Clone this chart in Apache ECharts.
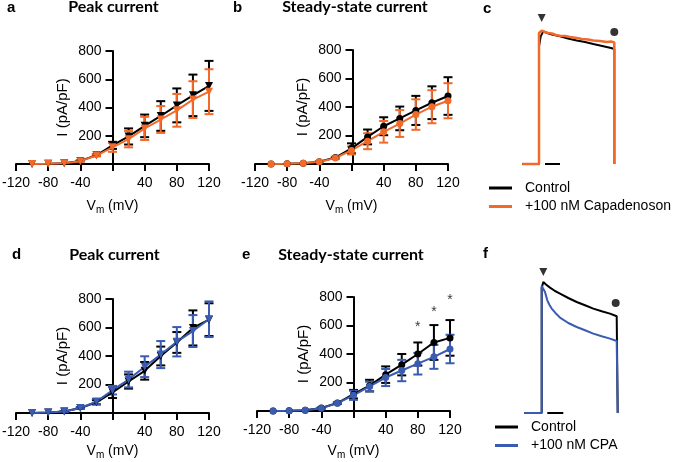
<!DOCTYPE html>
<html><head><meta charset="utf-8">
<script src="https://cdn.jsdelivr.net/npm/echarts@6/dist/echarts.min.js"></script>
<style>html,body{margin:0;padding:0;background:#fff}#c{width:677px;height:462px}</style>
</head><body><div id="c"></div>
<script>
// ---------- data ----------
const voltages = [-100, -80, -60, -40, -20, 0, 20, 40, 60, 80, 100, 120];
const xTickLabels = [-120, -80, -40, 40, 80, 120];
const yTickLabels = [200, 400, 600, 800];

// a: Peak current (Capadenoson)
const aCtrlMean = [0, 2, 5, 22, 62, 132, 195, 270, 340, 415, 486, 553];
const aCtrlErr  = [0, 0, 1, 3, 6, 25, 57, 80, 105, 120, 147, 177];
const aCapaMean = [0, 2, 5, 20, 60, 118, 176, 252, 315, 380, 456, 512];
const aCapaErr  = [0, 0, 1, 3, 6, 32, 58, 82, 95, 116, 130, 159];
// b: Steady-state current (Capadenoson)
const bCtrlMean = [0, 2, 6, 16, 45, 110, 190, 265, 320, 376, 430, 477];
const bCtrlErr  = [0, 0, 1, 2, 5, 35, 52, 63, 83, 102, 115, 132];
const bCapaMean = [0, 2, 5, 15, 42, 95, 160, 226, 284, 347, 402, 444];
const bCapaErr  = [0, 0, 1, 2, 5, 28, 56, 76, 94, 107, 116, 123];
// d: Peak current (CPA)
const dCtrlMean = [0, 3, 10, 35, 75, 145, 221, 296, 400, 495, 597, 655];
const dCtrlErr  = [0, 0, 2, 5, 15, 40, 50, 62, 66, 73, 123, 115];
const dCpaMean  = [0, 3, 10, 35, 80, 160, 235, 325, 410, 500, 575, 658];
const dCpaErr   = [0, 0, 2, 5, 18, 30, 55, 73, 95, 103, 112, 125];
// e: Steady-state current (CPA)
const eCtrlMean = [0, 2, 6, 21, 56, 118, 178, 255, 325, 400, 481, 513];
const eCtrlErr  = [0, 0, 1, 3, 5, 30, 41, 58, 75, 81, 122, 125];
const eCpaMean  = [0, 2, 6, 20, 55, 110, 172, 235, 284, 332, 380, 435];
const eCpaErr   = [0, 0, 1, 3, 5, 32, 33, 60, 75, 76, 84, 100];
const eStarVoltages = [80, 100, 120];
const eStarLevels   = [613, 712, 800];

// c: example traces (time ms, current arbitrary units)
const cCtrlTrace = [[2.3,0],[19,0],[19,117.6],[20.7,127.6],[23.3,132.6],[27,131],[32,129.5],[40,127.6],[48,125.5],[56.7,123.6],[65,122],[73.3,120],[80,118.5],[86.7,117],[91,116],[94.3,115],[94.3,0]];
const cCapaTrace = [[2.3,0],[19,0],[19,131],[20,130],[21.7,133.3],[23,132.5],[25,132],[28,131],[32,130.5],[36,129],[40,128.3],[45,128],[50,127],[56.7,126],[62,125],[68,124.5],[73.3,123.6],[80,123],[86.7,122],[91,122.5],[94.3,121.6],[94.3,0],[94.8,0]];
const cPeakMark = [[21.7, 146]];
const cEndMark  = [[94.3, 132]];
const cScaleBar = [[25, 0], [40, 0]];
// f: example traces
const fCtrlTrace = [[4.3,0],[21.7,0],[21.7,125],[23.3,131],[26,128.5],[30,125.4],[35,122],[40,119.4],[48.3,115],[56.7,111],[65,107.7],[73.3,104.4],[81.7,101.7],[90,99.4],[96.7,96.7],[97.7,96.5],[97.7,0]];
const fCpaTrace  = [[4.3,0],[21.7,0],[21.7,127],[22.5,128.7],[23.3,127.7],[25,121],[27.3,112.7],[29.5,108],[31.7,104.4],[36.7,98.7],[40,95.4],[48.3,90],[56.7,86],[65,82.7],[73.3,79.4],[81.7,76.7],[90,74.4],[96.7,72],[97.7,72],[97.7,0]];
const fPeakMark = [[23.3, 141]];
const fEndMark  = [[95.7, 110]];
const fScaleBar = [[27.3, 0], [43.3, 0]];

// ---------- styling ----------
const FONT = "'Liberation Sans', Arial, sans-serif";
const BLACK = '#000000';
const ORANGE = '#f26a2a';
const BLUE = '#3a5bb2';

const chart = echarts.init(document.getElementById('c'));

function ivX(gi, gap) {
  return {
    type: 'value', gridIndex: gi, min: -120, max: 120, interval: 40,
    axisLine: { onZero: false, lineStyle: { color: BLACK, width: 2 } },
    axisTick: { show: true, length: 7, lineStyle: { color: BLACK, width: 2 } },
    axisLabel: { margin: 12, color: BLACK, fontSize: 14, fontFamily: FONT,
      formatter: v => xTickLabels.includes(v) ? String(v) : '' },
    splitLine: { show: false },
    name: '{v|V}{s|m}{v| (mV)}', nameLocation: 'middle', nameGap: gap,
    nameTextStyle: { color: BLACK, fontFamily: FONT,
      rich: { v: { fontSize: 14, fontFamily: FONT, color: BLACK },
              s: { fontSize: 10, fontFamily: FONT, color: BLACK, padding: [7, 0, 0, 0] } } }
  };
}
function ivY(gi, off) {
  return {
    type: 'value', gridIndex: gi, min: 0, max: 800, interval: 200, position: 'left', offset: off,
    axisLine: { show: true, onZero: false, lineStyle: { color: BLACK, width: 2 } },
    axisTick: { show: true, length: 7, lineStyle: { color: BLACK, width: 2 } },
    axisLabel: { margin: 11, color: BLACK, fontSize: 14, fontFamily: FONT,
      formatter: v => yTickLabels.includes(v) ? String(v) : '' },
    splitLine: { show: false },
    name: 'I (pA/pF)', nameLocation: 'middle', nameRotate: 90, nameGap: 42,
    nameTextStyle: { color: BLACK, fontSize: 15, fontFamily: FONT }
  };
}
function hidX(gi) { return { type: 'value', gridIndex: gi, min: 0, max: 100, show: false }; }
function hidY(gi) { return { type: 'value', gridIndex: gi, min: 0, max: 150, show: false }; }

function errData(mean, err) { return voltages.map((v, i) => [v, mean[i] - err[i], mean[i] + err[i]]); }
function meanData(mean) { return voltages.map((v, i) => [v, mean[i]]); }

function errSeries(name, gi, mean, err, color) {
  return {
    type: 'custom', name, xAxisIndex: gi, yAxisIndex: gi, clip: false,
    itemStyle: { color },
    encode: { x: 0, y: [1, 2] },
    data: errData(mean, err),
    renderItem: (params, api) => {
      const x = api.value(0), lo = api.value(1), hi = api.value(2);
      if (hi - lo < 4) return null;
      const pl = api.coord([x, lo]), ph = api.coord([x, hi]);
      const hw = 4.5;
      const st = { stroke: color, lineWidth: 2 };
      return { type: 'group', children: [
        { type: 'line', shape: { x1: pl[0], y1: pl[1], x2: ph[0], y2: ph[1] }, style: st },
        { type: 'line', shape: { x1: ph[0] - hw, y1: ph[1], x2: ph[0] + hw, y2: ph[1] }, style: st },
        { type: 'line', shape: { x1: pl[0] - hw, y1: pl[1], x2: pl[0] + hw, y2: pl[1] }, style: st }
      ] };
    }
  };
}
function meanSeries(name, gi, mean, color, tri) {
  return {
    type: 'line', name, xAxisIndex: gi, yAxisIndex: gi, clip: false,
    data: meanData(mean),
    symbol: tri ? 'triangle' : 'circle', symbolRotate: tri ? 180 : 0,
    symbolSize: tri ? 8 : 7, showSymbol: true,
    lineStyle: { color, width: 2 }, itemStyle: { color },
    emphasis: { disabled: true }, animation: false
  };
}
function traceSeries(name, gi, data, color, w) {
  return { type: 'line', name, xAxisIndex: gi, yAxisIndex: gi, data, showSymbol: false, symbol: 'none',
    clip: false, lineStyle: { color, width: w }, itemStyle: { color }, animation: false };
}
function markSeries(gi, data, symbol, rot) {
  return { type: 'scatter', xAxisIndex: gi, yAxisIndex: gi, data, symbol, symbolRotate: rot,
    symbolSize: 8, itemStyle: { color: BLACK }, clip: false, animation: false };
}

const grids = [
  { left: 16, top: 51, width: 193, height: 113 },   // a
  { left: 255, top: 50, width: 193, height: 114 },  // b
  { left: 16, top: 299, width: 193, height: 114 },  // d
  { left: 257, top: 297, width: 193, height: 114 }, // e
  { left: 520, top: 14, width: 100, height: 150 },  // c
  { left: 520, top: 263, width: 100, height: 150 }  // f
].map(g => Object.assign({ outerBoundsMode: 'none', containLabel: false }, g));

const titleFont = "bold 16px Lato, 'Open Sans', sans-serif";
const letterFont = "bold 15px 'Liberation Sans', Arial, sans-serif";
function txt(text, x, y, font, align) {
  return { type: 'text', x, y, silent: true,
    style: { text, font, fill: BLACK, textAlign: align || 'left', textVerticalAlign: 'middle' } };
}

const option = {
  animation: false,
  backgroundColor: '#ffffff',
  grid: grids,
  xAxis: [ivX(0, 34), ivX(1, 34), ivX(2, 30), ivX(3, 32), hidX(4), hidX(5)],
  yAxis: [ivY(0, -96.5), ivY(1, -97.5), ivY(2, -96.5), ivY(3, -96.5), hidY(4), hidY(5)],
  legend: [
    { left: 489, top: 180, orient: 'vertical', icon: 'rect', itemWidth: 23, itemHeight: 3, itemGap: 2.5,
      selectedMode: false, padding: 0,
      textStyle: { fontSize: 14, color: BLACK, fontFamily: FONT, padding: [0, 0, 0, 8], lineHeight: 16 },
      data: ['Control', '+100 nM Capadenoson'] },
    { left: 495, top: 419, orient: 'vertical', icon: 'rect', itemWidth: 23, itemHeight: 3, itemGap: 2.5,
      selectedMode: false, padding: 0,
      textStyle: { fontSize: 14, color: BLACK, fontFamily: FONT, padding: [0, 0, 0, 8], lineHeight: 16 },
      data: ['Control', '+100 nM CPA'] }
  ],
  graphic: [
    txt('a', 7, 7.5, letterFont), txt('b', 233, 7.5, letterFont), txt('c', 483, 8.5, letterFont),
    txt('d', 12, 254.7, letterFont), txt('e', 242, 254.7, letterFont), txt('f', 483, 254, letterFont),
    txt('Peak current', 113.5, 7.1, titleFont, 'center'),
    txt('Steady-state current', 355, 7.1, titleFont, 'center'),
    txt('Peak current', 114.5, 254.4, titleFont, 'center'),
    txt('Steady-state current', 351, 254.4, titleFont, 'center')
  ],
  series: [
    // a
    errSeries('Control', 0, aCtrlMean, aCtrlErr, BLACK),
    meanSeries('Control', 0, aCtrlMean, BLACK, true),
    errSeries('+100 nM Capadenoson', 0, aCapaMean, aCapaErr, ORANGE),
    meanSeries('+100 nM Capadenoson', 0, aCapaMean, ORANGE, true),
    // b
    errSeries('Control', 1, bCtrlMean, bCtrlErr, BLACK),
    meanSeries('Control', 1, bCtrlMean, BLACK, false),
    errSeries('+100 nM Capadenoson', 1, bCapaMean, bCapaErr, ORANGE),
    meanSeries('+100 nM Capadenoson', 1, bCapaMean, ORANGE, false),
    // d
    errSeries('Control', 2, dCtrlMean, dCtrlErr, BLACK),
    meanSeries('Control', 2, dCtrlMean, BLACK, true),
    errSeries('+100 nM CPA', 2, dCpaMean, dCpaErr, BLUE),
    meanSeries('+100 nM CPA', 2, dCpaMean, BLUE, true),
    // e
    errSeries('Control', 3, eCtrlMean, eCtrlErr, BLACK),
    meanSeries('Control', 3, eCtrlMean, BLACK, false),
    errSeries('+100 nM CPA', 3, eCpaMean, eCpaErr, BLUE),
    meanSeries('+100 nM CPA', 3, eCpaMean, BLUE, false),
    { type: 'scatter', xAxisIndex: 3, yAxisIndex: 3, clip: false, symbolSize: 1, itemStyle: { color: 'rgba(0,0,0,0)' },
      data: eStarVoltages.map((v, i) => [v, eStarLevels[i]]),
      label: { show: true, position: 'inside', formatter: '*', color: BLACK, fontSize: 14, fontFamily: FONT, offset: [0, 3] } },
    // c traces
    traceSeries('Control', 4, cCtrlTrace, BLACK, 2),
    traceSeries('+100 nM Capadenoson', 4, cCapaTrace, ORANGE, 2.5),
    markSeries(4, cPeakMark, 'triangle', 180),
    markSeries(4, cEndMark, 'circle', 0),
    traceSeries('scale', 4, cScaleBar, BLACK, 2),
    // f traces
    traceSeries('Control', 5, fCtrlTrace, BLACK, 2),
    traceSeries('+100 nM CPA', 5, fCpaTrace, BLUE, 2),
    markSeries(5, fPeakMark, 'triangle', 180),
    markSeries(5, fEndMark, 'circle', 0),
    traceSeries('scale', 5, fScaleBar, BLACK, 2)
  ]
};
chart.setOption(option);
</script>
</body></html>
